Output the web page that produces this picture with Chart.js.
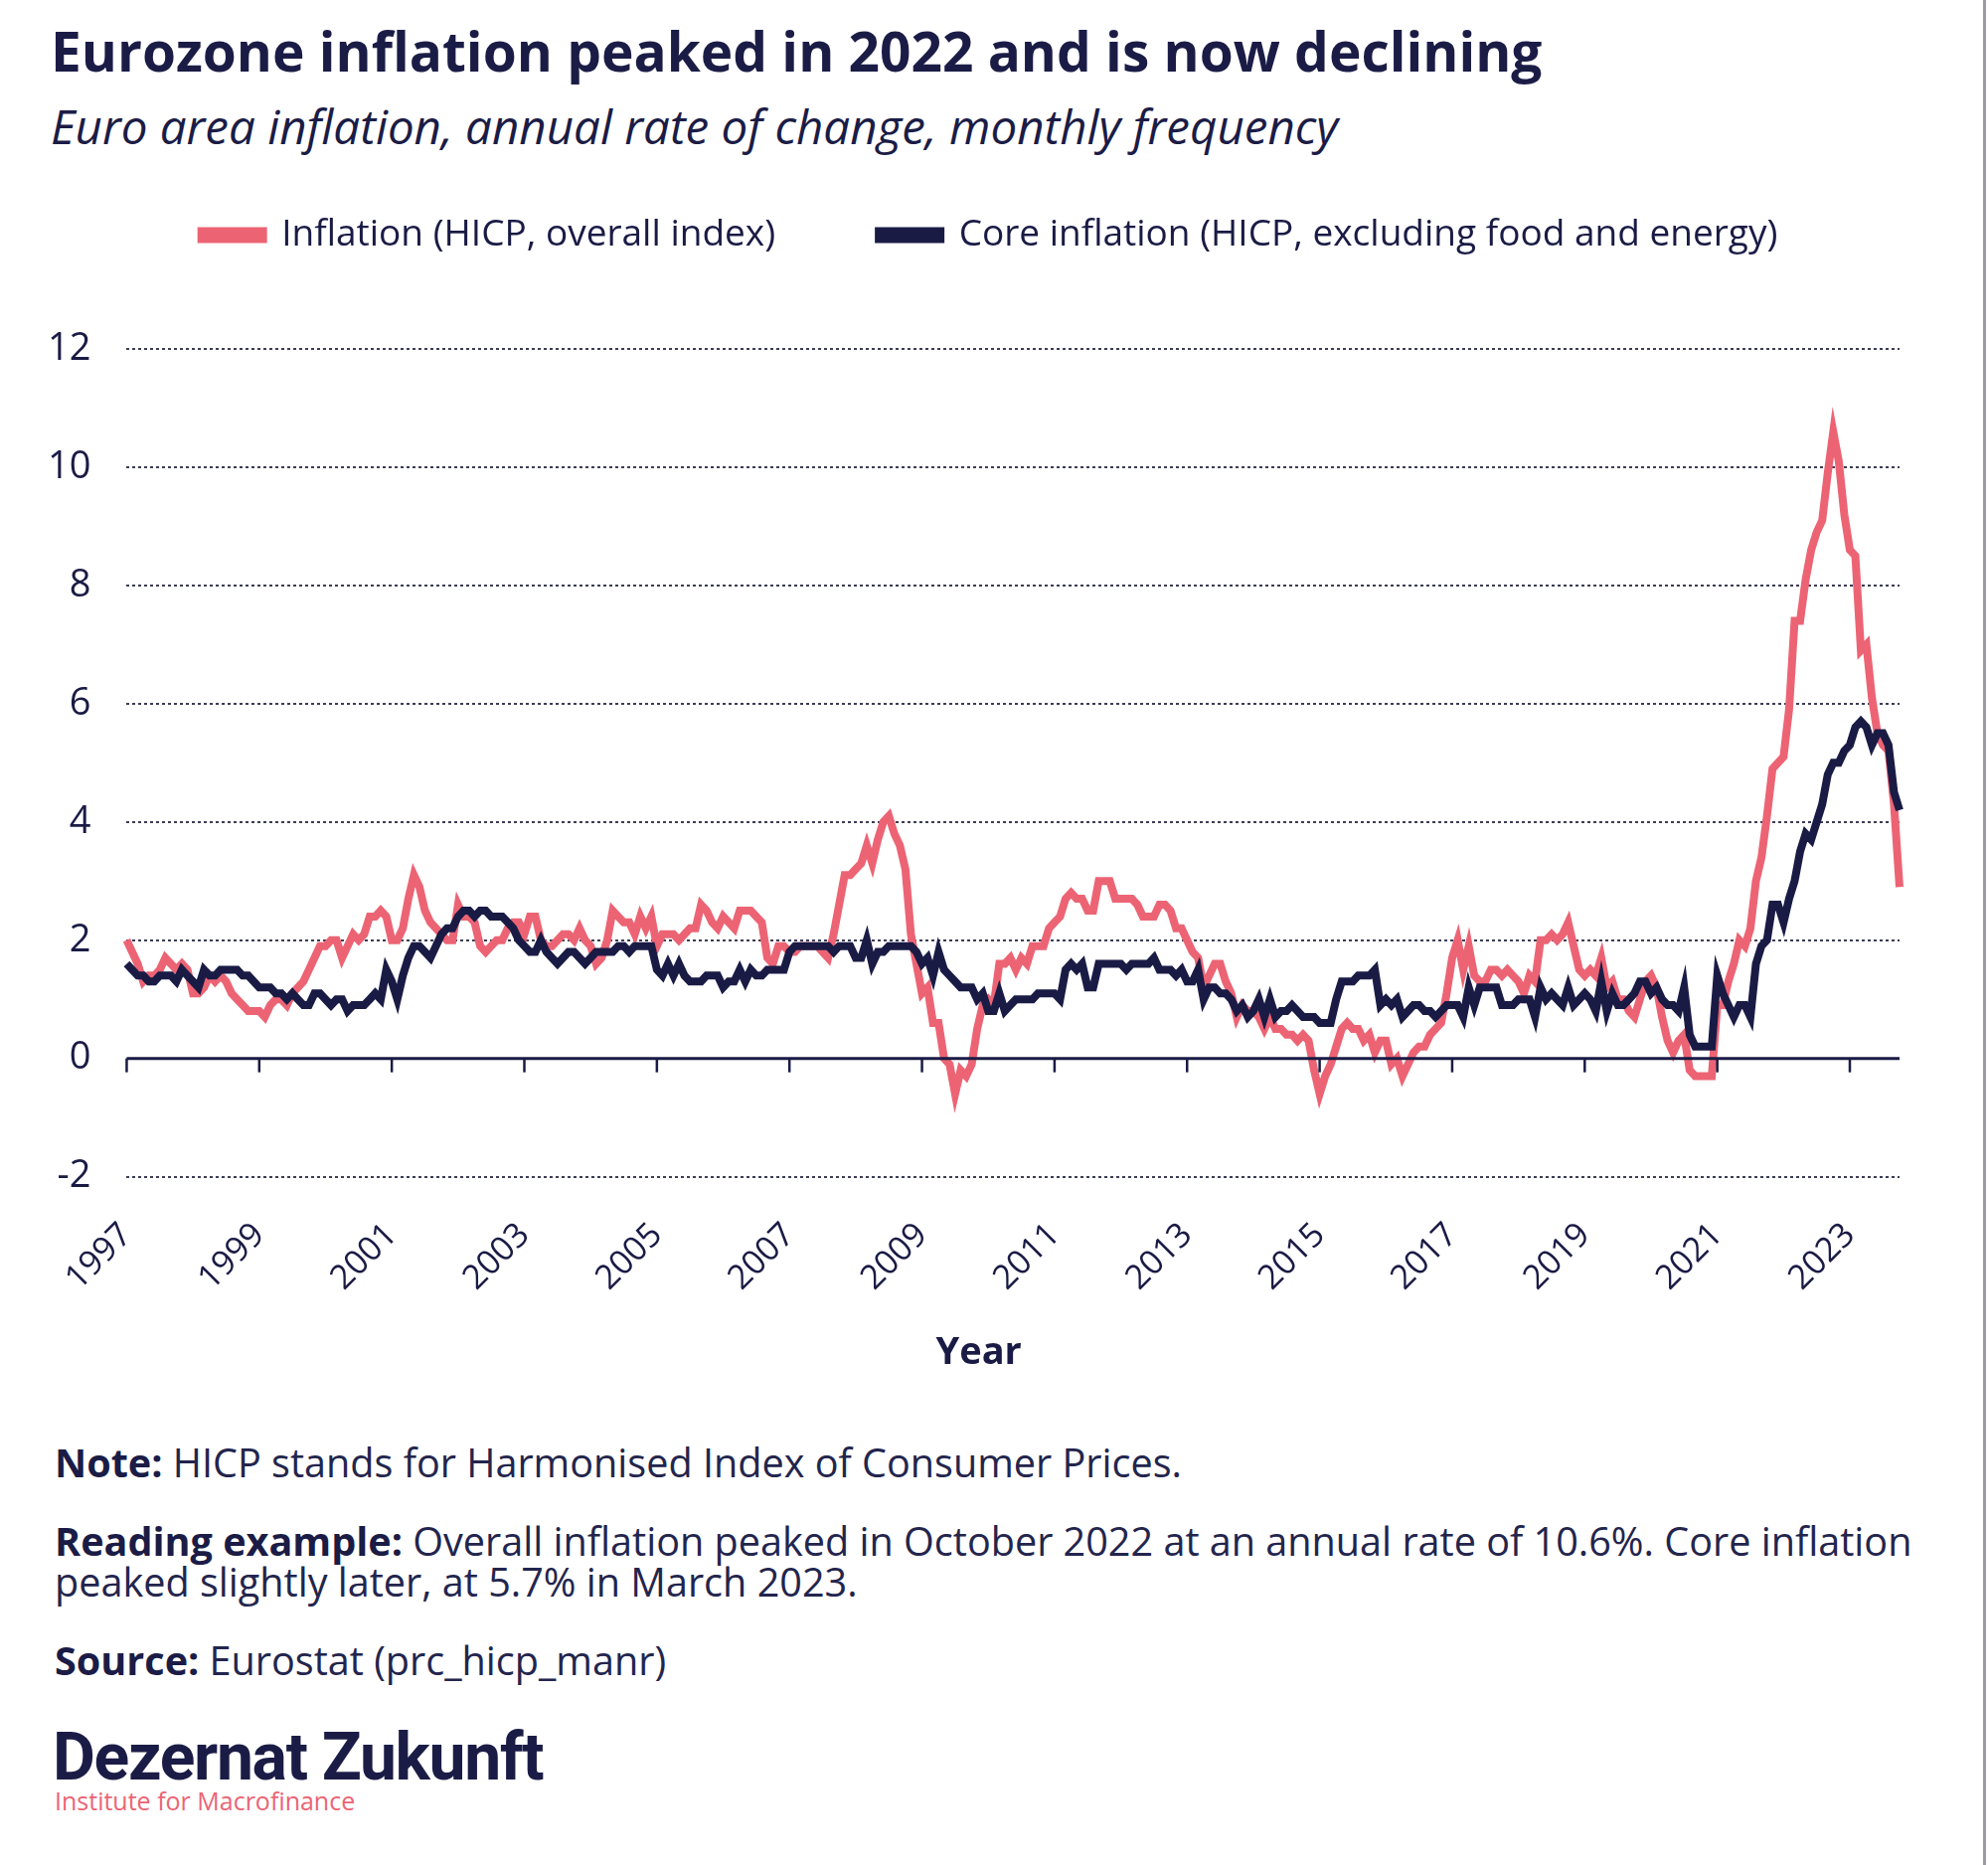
<!DOCTYPE html>
<html>
<head>
<meta charset="utf-8">
<script src="https://cdn.jsdelivr.net/npm/chart.js@4.4.0/dist/chart.umd.min.js"></script>
<style>
  body { margin:0; width:2000px; height:1876px; position:relative; overflow:hidden; background:#fff;
         font-family:'Open Sans', sans-serif; color:#1b1c46; }
  .abs { position:absolute; white-space:nowrap; }
  #title { left:51px; top:23px; font-size:55px; font-weight:700; line-height:1; }
  #subtitle { left:51px; top:103px; font-size:47.5px; font-style:italic; line-height:1; }
  .foot { left:55px; font-size:39.6px; line-height:41px; color:#23254d; }
  .foot b { font-weight:700; color:#1b1c46; }
  #logo { left:53px; top:1735px; font-family:Roboto, sans-serif; font-weight:700; font-size:66px; line-height:1; letter-spacing:-1.3px; }
  #inst { left:55px; top:1799px; font-size:25px; line-height:1; color:#ec6474; }
  #edge { position:absolute; left:1995px; top:0; width:3px; height:1876px; background:#9a9aa0; }
  #wrap { position:absolute; left:0; top:114px; width:2000px; height:1274px; }
</style>
</head>
<body>
<div id="title" class="abs">Eurozone inflation peaked in 2022 and is now declining</div>
<div id="subtitle" class="abs">Euro area inflation, annual rate of change, monthly frequency</div>
<div id="wrap"><canvas id="chart"></canvas></div>
<div class="abs foot" style="top:1451px"><b>Note:</b> HICP stands for Harmonised Index of Consumer Prices.</div>
<div class="abs foot" style="top:1530px"><b>Reading example:</b> Overall inflation peaked in October 2022 at an annual rate of 10.6%. Core inflation<br>peaked slightly later, at 5.7% in March 2023.</div>
<div class="abs foot" style="top:1650px"><b>Source:</b> Eurostat (prc_hicp_manr)</div>
<div id="logo" class="abs">Dezernat Zukunft</div>
<div id="inst" class="abs">Institute for Macrofinance</div>
<div id="edge"></div>
<script>
// ── DATA ─────────────────────────────────────────
const startYear = 1997;
const yTicks = [-2, 0, 2, 4, 6, 8, 10, 12];

// HICP overall index, annual rate (%), Jan 1997 – Oct 2023
const hicp = [
  2.0,1.8,1.6,1.3,1.4,1.4,1.5,1.7,1.6,1.5,1.6,1.5,   // 1997
  1.1,1.1,1.2,1.4,1.3,1.4,1.3,1.1,1.0,0.9,0.8,0.8,   // 1998
  0.8,0.7,0.9,1.0,1.0,0.9,1.1,1.2,1.3,1.5,1.7,1.9,   // 1999
  1.9,2.0,2.0,1.7,1.9,2.1,2.0,2.1,2.4,2.4,2.5,2.4,   // 2000
  2.0,2.0,2.2,2.7,3.1,2.9,2.5,2.3,2.2,2.1,2.0,2.0,   // 2001
  2.6,2.4,2.4,2.3,1.9,1.8,1.9,2.0,2.0,2.2,2.3,2.3,   // 2002
  2.1,2.4,2.4,2.0,1.9,1.9,2.0,2.1,2.1,2.0,2.2,2.0,   // 2003
  1.9,1.6,1.7,2.0,2.5,2.4,2.3,2.3,2.1,2.4,2.2,2.4,   // 2004
  1.9,2.1,2.1,2.1,2.0,2.1,2.2,2.2,2.6,2.5,2.3,2.2,   // 2005
  2.4,2.3,2.2,2.5,2.5,2.5,2.4,2.3,1.7,1.6,1.9,1.9,   // 2006
  1.8,1.8,1.9,1.9,1.9,1.9,1.8,1.7,2.1,2.6,3.1,3.1,   // 2007
  3.2,3.3,3.6,3.3,3.7,4.0,4.1,3.8,3.6,3.2,2.1,1.6,   // 2008
  1.1,1.2,0.6,0.6,0.0,-0.1,-0.6,-0.2,-0.3,-0.1,0.5,0.9, // 2009
  1.0,0.9,1.6,1.6,1.7,1.5,1.7,1.6,1.9,1.9,1.9,2.2,   // 2010
  2.3,2.4,2.7,2.8,2.7,2.7,2.5,2.5,3.0,3.0,3.0,2.7,   // 2011
  2.7,2.7,2.7,2.6,2.4,2.4,2.4,2.6,2.6,2.5,2.2,2.2,   // 2012
  2.0,1.8,1.7,1.2,1.4,1.6,1.6,1.3,1.1,0.7,0.9,0.8,   // 2013
  0.8,0.7,0.5,0.7,0.5,0.5,0.4,0.4,0.3,0.4,0.3,-0.2,  // 2014
  -0.6,-0.3,-0.1,0.2,0.5,0.6,0.5,0.5,0.3,0.4,0.1,0.3, // 2015
  0.3,-0.1,0.0,-0.3,-0.1,0.1,0.2,0.2,0.4,0.5,0.6,1.1, // 2016
  1.7,2.0,1.5,1.9,1.4,1.3,1.3,1.5,1.5,1.4,1.5,1.4,   // 2017
  1.3,1.1,1.4,1.3,2.0,2.0,2.1,2.0,2.1,2.3,1.9,1.5,   // 2018
  1.4,1.5,1.4,1.7,1.2,1.3,1.0,1.0,0.8,0.7,1.0,1.3,   // 2019
  1.4,1.2,0.7,0.3,0.1,0.3,0.4,-0.2,-0.3,-0.3,-0.3,-0.3, // 2020
  0.9,0.9,1.3,1.6,2.0,1.9,2.2,3.0,3.4,4.1,4.9,5.0,   // 2021
  5.1,5.9,7.4,7.4,8.1,8.6,8.9,9.1,9.9,10.6,10.1,9.2, // 2022
  8.6,8.5,6.9,7.0,6.1,5.5,5.3,5.2,4.3,2.9            // 2023
];

// HICP excluding food and energy, annual rate (%)
const core = [
  1.6,1.5,1.4,1.4,1.3,1.3,1.4,1.4,1.4,1.3,1.5,1.4,   // 1997
  1.3,1.2,1.5,1.4,1.4,1.5,1.5,1.5,1.5,1.4,1.4,1.3,   // 1998
  1.2,1.2,1.2,1.1,1.1,1.0,1.1,1.0,0.9,0.9,1.1,1.1,   // 1999
  1.0,0.9,1.0,1.0,0.8,0.9,0.9,0.9,1.0,1.1,1.0,1.5,   // 2000
  1.3,1.0,1.4,1.7,1.9,1.9,1.8,1.7,1.9,2.1,2.2,2.2,   // 2001
  2.4,2.5,2.5,2.4,2.5,2.5,2.4,2.4,2.4,2.3,2.2,2.0,   // 2002
  1.9,1.8,1.8,2.0,1.8,1.7,1.6,1.7,1.8,1.8,1.7,1.6,   // 2003
  1.7,1.8,1.8,1.8,1.8,1.9,1.9,1.8,1.9,1.9,1.9,1.9,   // 2004
  1.5,1.4,1.6,1.4,1.6,1.4,1.3,1.3,1.3,1.4,1.4,1.4,   // 2005
  1.2,1.3,1.3,1.5,1.3,1.5,1.4,1.4,1.5,1.5,1.5,1.5,   // 2006
  1.8,1.9,1.9,1.9,1.9,1.9,1.9,1.9,1.8,1.9,1.9,1.9,   // 2007
  1.7,1.7,2.0,1.6,1.8,1.8,1.9,1.9,1.9,1.9,1.9,1.8,   // 2008
  1.6,1.7,1.4,1.8,1.5,1.4,1.3,1.2,1.2,1.2,1.0,1.1,   // 2009
  0.8,0.8,1.1,0.8,0.9,1.0,1.0,1.0,1.0,1.1,1.1,1.1,   // 2010
  1.1,1.0,1.5,1.6,1.5,1.6,1.2,1.2,1.6,1.6,1.6,1.6,   // 2011
  1.6,1.5,1.6,1.6,1.6,1.6,1.7,1.5,1.5,1.5,1.4,1.5,   // 2012
  1.3,1.3,1.5,1.0,1.2,1.2,1.1,1.1,1.0,0.8,0.9,0.7,   // 2013
  0.8,1.0,0.7,1.0,0.7,0.8,0.8,0.9,0.8,0.7,0.7,0.7,   // 2014
  0.6,0.6,0.6,1.0,1.3,1.3,1.3,1.4,1.4,1.4,1.5,0.9,   // 2015
  1.0,0.9,1.0,0.7,0.8,0.9,0.9,0.8,0.8,0.7,0.8,0.9,   // 2016
  0.9,0.9,0.7,1.2,0.9,1.2,1.2,1.2,1.2,0.9,0.9,0.9,   // 2017
  1.0,1.0,1.0,0.7,1.2,1.0,1.1,1.0,0.9,1.2,0.9,1.0,   // 2018
  1.1,1.0,0.8,1.3,0.8,1.1,0.9,0.9,1.0,1.1,1.3,1.3,   // 2019
  1.1,1.2,1.0,0.9,0.9,0.8,1.2,0.4,0.2,0.2,0.2,0.2,   // 2020
  1.4,1.1,0.9,0.7,0.9,0.9,0.7,1.6,1.9,2.0,2.6,2.6,   // 2021
  2.3,2.7,3.0,3.5,3.8,3.7,4.0,4.3,4.8,5.0,5.0,5.2,   // 2022
  5.3,5.6,5.7,5.6,5.3,5.5,5.5,5.3,4.5,4.2            // 2023
];

// month labels "1997-01" ...
const months = hicp.map((_, i) => {
  const y = startYear + Math.floor(i / 12), m = i % 12 + 1;
  return y + '-' + String(m).padStart(2, '0');
});

const NAVY = '#1a1b45';
const PINK = '#ec6474';
const isLabelMonth = lbl => lbl.endsWith('-01') && (parseInt(lbl) - startYear) % 2 === 0;

// gap under the legend, legend nudged right
const legendGap = {
  id: 'legendGap',
  beforeInit(chart) {
    const fit = chart.legend.fit;
    chart.legend.fit = function () { fit.bind(chart.legend)(); this.height += 86; };
  },
  afterLayout(chart) {
    chart.legend.left += 34;
    chart.legend.right += 34;
  }
};

// solid zero line with tick marks
const zeroAxis = {
  id: 'zeroAxis',
  afterDatasetsDraw(chart) {
    const { ctx: c, scales: { x, y }, chartArea } = chart;
    const y0 = y.getPixelForValue(0);
    c.save();
    c.strokeStyle = NAVY;
    c.lineWidth = 3;
    c.beginPath();
    c.moveTo(chartArea.left, y0); c.lineTo(chartArea.right, y0);
    c.stroke();
    c.lineWidth = 2.5;
    months.forEach((lbl, i) => {
      if (!isLabelMonth(lbl)) return;
      const px = x.getPixelForValue(i);
      c.beginPath(); c.moveTo(px, y0); c.lineTo(px, y0 + 14); c.stroke();
    });
    c.restore();
  }
};

new Chart(document.getElementById('chart'), {
  type: 'line',
  data: {
    labels: months,
    datasets: [
      { label: 'Inflation (HICP, overall index)', data: hicp, borderColor: PINK, backgroundColor: PINK,
        borderWidth: 8, pointRadius: 0, tension: 0, order: 2 },
      { label: 'Core inflation (HICP, excluding food and energy)', data: core, borderColor: NAVY, backgroundColor: NAVY,
        borderWidth: 8, pointRadius: 0, tension: 0, order: 1 }
    ]
  },
  options: {
    responsive: true, maintainAspectRatio: false, animation: false,
    layout: { padding: { left: 12, right: 89, top: 0, bottom: 0 } },
    plugins: {
      legend: {
        labels: {
          color: NAVY, font: { family: 'Open Sans', size: 37 }, boxWidth: 62, boxHeight: 8, padding: 104,
          sort: (a, b) => a.datasetIndex - b.datasetIndex
        }
      },
      tooltip: { enabled: false }
    },
    scales: {
      x: {
        grid: { display: false },
        border: { display: false },
        ticks: {
          autoSkip: false, maxRotation: 45, minRotation: 45, padding: 31,
          color: NAVY, font: { family: 'Open Sans', size: 34 },
          callback(v, i) { const l = months[i]; return isLabelMonth(l) ? l.slice(0, 4) : null; }
        },
        title: {
          display: true, text: 'Year\u00a0\u00a0\u00a0\u00a0\u00a0\u00a0\u00a0', color: NAVY,
          font: { family: 'Open Sans', size: 38, weight: 'bold' }, padding: { top: 1, bottom: 4 }
        }
      },
      y: {
        min: -2, max: 12,
        afterBuildTicks: s => { s.ticks = yTicks.map(v => ({ value: v })); },
        grid: { color: c => c.tick && c.tick.value === 0 ? 'rgba(0,0,0,0)' : '#3c3d55', lineWidth: 2, drawTicks: false },
        border: { display: false, dash: [3, 3] },
        ticks: { color: NAVY, font: { family: 'Open Sans', size: 38 }, padding: 36 }
      }
    }
  },
  plugins: [legendGap, zeroAxis]
});
</script>
</body>
</html>
